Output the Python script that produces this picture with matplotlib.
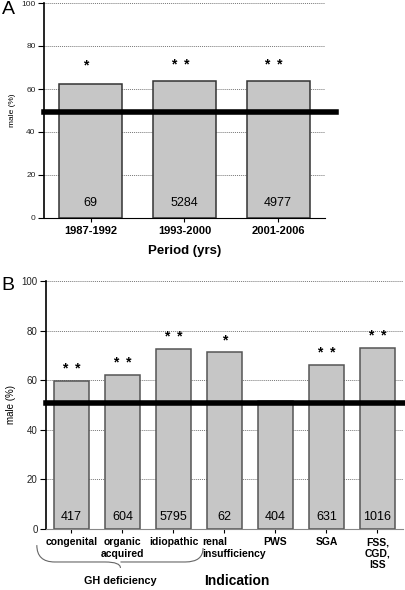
import numpy as np
import matplotlib.pyplot as plt
from matplotlib.path import Path
from matplotlib.patches import PathPatch
import matplotlib.transforms as mtransforms

plt.rcParams['font.family'] = ['Liberation Sans', 'DejaVu Sans']

# panel A
periods = ['1987-1992', '1993-2000', '2001-2006']
male_a = [62.3, 63.7, 63.7]
n_a = ['69', '5284', '4977']
stars_a = ['*', '*  *', '*  *']
ref_a = 49.3

# panel B
indications = ['congenital', 'organic\nacquired', 'idiopathic', 'renal\ninsufficiency',
               'PWS', 'SGA', 'FSS,\nCGD,\nISS']
male_b = [59.7, 62.0, 72.5, 71.2, 51.6, 66.1, 72.9]
n_b = ['417', '604', '5795', '62', '404', '631', '1016']
stars_b = ['*  *', '*  *', '*  *', '*', '', '*  *', '*  *']
ref_b = 50.7

bar_color = '#c6c6c6'
fig = plt.figure(figsize=(4.06, 5.90), dpi=100)

ax1 = fig.add_axes([44/406, 1-218/590, 281/406, 215/590])
ax2 = fig.add_axes([46/406, 1-529/590, 357/406, 248/590])


def style(ax, ylab_size, tick_size):
    ax.set_ylim(0, 100)
    ax.set_yticks([0, 20, 40, 60, 80, 100])
    ax.yaxis.grid(True, linestyle=(0, (1, 1)), color='#777777', linewidth=0.7)
    ax.set_axisbelow(True)
    for s in ['top', 'right']:
        ax.spines[s].set_visible(False)
    ax.spines['left'].set_linewidth(1.2)
    ax.spines['bottom'].set_linewidth(0.8)
    ax.tick_params(axis='y', labelsize=tick_size, length=4, width=0.8, pad=2, labelcolor='#222222')
    ax.tick_params(axis='x', length=3, width=0.8, pad=3)
    ax.set_ylabel('male (%)', fontsize=ylab_size, labelpad=4)


# ---- A
x = np.arange(len(periods))
ax1.bar(x, male_a, width=0.67, color=bar_color, edgecolor='#333333', linewidth=1.1)
ax1.set_xlim(-0.5, len(periods) - 0.5)
style(ax1, 6, 6)
ax1.set_xticks(x)
ax1.set_xticklabels(periods, fontsize=8, fontweight='bold')
ax1.axhline(ref_a, xmin=0, xmax=1.04, color='black', linewidth=4, clip_on=False, zorder=5)
for i in x:
    ax1.text(i, 7, n_a[i], ha='center', va='center', fontsize=9)
    ax1.text(i - 0.05, 71, stars_a[i], ha='center', va='center', fontsize=10, fontweight='bold')
ax1.set_xlabel('Period (yrs)', fontsize=9.5, fontweight='bold', labelpad=6)
fig.text(2/406, 1-9/590, 'A', fontsize=14, va='center', ha='left')

# ---- B
x = np.arange(len(indications))
ax2.bar(x, male_b, width=0.67, color=bar_color, edgecolor='#555555', linewidth=1.1)
ax2.set_xlim(-0.5, len(indications) - 0.5)
style(ax2, 7, 7)
ax2.spines['bottom'].set_color('#888888')
ax2.set_xticks(x)
ax2.set_xticklabels(indications, fontsize=7.5, fontweight='bold', linespacing=1.15, va='top')
ax2.axhline(ref_b, xmin=0, xmax=1.01, color='black', linewidth=4, clip_on=False, zorder=5)
for i in x:
    ax2.text(i, 4.8, n_b[i], ha='center', va='center', fontsize=9)
    if stars_b[i]:
        ax2.text(i, male_b[i] + 5, stars_b[i], ha='center', va='center', fontsize=10, fontweight='bold')

# shift "renal insufficiency" label, left aligned lines
lab = ax2.get_xticklabels()[3]
lab.set_multialignment('left')
lab.set_transform(lab.get_transform() + mtransforms.ScaledTranslation(10/100, 0, fig.dpi_scale_trans))

ax2.text(0.535, -0.208, 'Indication', transform=ax2.transAxes, ha='center', va='center',
         fontsize=10, fontweight='bold')

# brace under GH deficiency
trans = mtransforms.blended_transform_factory(ax2.transData, ax2.transAxes)
x0, xm, x1 = -0.68, 0.96, 2.58
yt0, yt1, yb, ytip = -0.065, -0.077, -0.133, -0.157
verts = [(x0, yt0), (x0, yb), (x0 + 0.35, yb), (xm - 0.3, yb), (xm, yb), (xm, ytip),
         (xm, yb), (xm + 0.3, yb), (x1 - 0.35, yb), (x1, yb), (x1, yt1)]
codes = [Path.MOVETO, Path.CURVE3, Path.CURVE3, Path.LINETO, Path.CURVE3, Path.CURVE3,
         Path.MOVETO, Path.CURVE3, Path.CURVE3, Path.CURVE3, Path.CURVE3]
brace = PathPatch(Path(verts, codes), transform=trans, fill=False, edgecolor='#666666',
                  linewidth=0.8, clip_on=False)
ax2.add_patch(brace)
ax2.text(xm, -0.21, 'GH deficiency', transform=trans, ha='center', va='center',
         fontsize=7.8, fontweight='bold')
fig.text(1/406, 1-285/590, 'B', fontsize=14, va='center', ha='left')

fig.savefig('out.png', dpi=100)
